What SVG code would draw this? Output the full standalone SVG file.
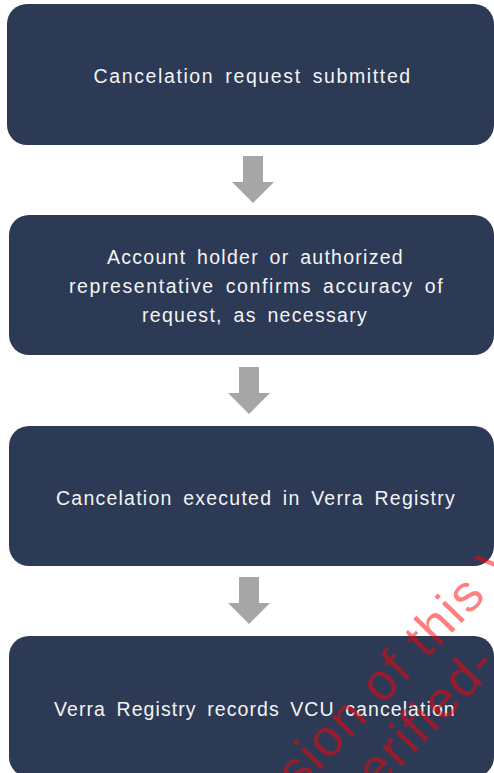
<svg xmlns="http://www.w3.org/2000/svg" xmlns:xlink="http://www.w3.org/1999/xlink" width="494" height="773" viewBox="0 0 494 773">
  <style>
    .box { fill: #2D3A56; }
    .lbl { font-family: "Liberation Sans", Arial, sans-serif; font-size: 19.5px; fill: #F4F4F4; text-anchor: middle; letter-spacing: 0.3px; word-spacing: 4px; }
    .arrow { fill: #A6A6A6; }
    .wm { font-family: "Liberation Sans", Arial, sans-serif; font-size: 52px; fill: #FF0000; fill-opacity: 0.5; letter-spacing: 2px; }
  </style>
  <defs>
    <path id="downArrow" d="M-10,0 H10 V26 H21 L0,47 L-21,26 H-10 Z"/>
  </defs>
  <rect x="0" y="0" width="494" height="773" fill="#FFFFFF"/>

  <g id="node-1">
    <rect class="box" x="7" y="4" width="487" height="141" rx="20" ry="20"/>
    <text class="lbl" x="252" y="83" textLength="317" lengthAdjust="spacing">Cancelation request submitted</text>
  </g>

  <g id="node-2">
    <rect class="box" x="9" y="215" width="485" height="140" rx="20" ry="20"/>
    <text class="lbl" x="255" y="264" textLength="296" lengthAdjust="spacing">Account holder or authorized</text>
    <text class="lbl" x="256" y="293" textLength="374" lengthAdjust="spacing">representative confirms accuracy of</text>
    <text class="lbl" x="254.5" y="322" textLength="225" lengthAdjust="spacing">request, as necessary</text>
  </g>

  <g id="node-3">
    <rect class="box" x="9" y="426" width="485" height="140" rx="20" ry="20"/>
    <text class="lbl" x="255.5" y="505" textLength="399" lengthAdjust="spacing">Cancelation executed in Verra Registry</text>
  </g>

  <g id="node-4">
    <rect class="box" x="9" y="636" width="485" height="141" rx="20" ry="20"/>
    <text class="lbl" x="254.5" y="716" textLength="401" lengthAdjust="spacing">Verra Registry records VCU cancelation</text>
  </g>

  <g id="connectors">
    <use xlink:href="#downArrow" href="#downArrow" class="arrow" x="253" y="156"/>
    <use xlink:href="#downArrow" href="#downArrow" class="arrow" x="249" y="367"/>
    <use xlink:href="#downArrow" href="#downArrow" class="arrow" x="249" y="577"/>
  </g>

  <g id="watermark">
    <text class="wm" x="298.8" y="791.7" transform="rotate(-46 298.8 791.7)">sion of this V</text>
    <text class="wm" x="378" y="791" transform="rotate(-46 378 791)">erified-</text>
  </g>
</svg>
